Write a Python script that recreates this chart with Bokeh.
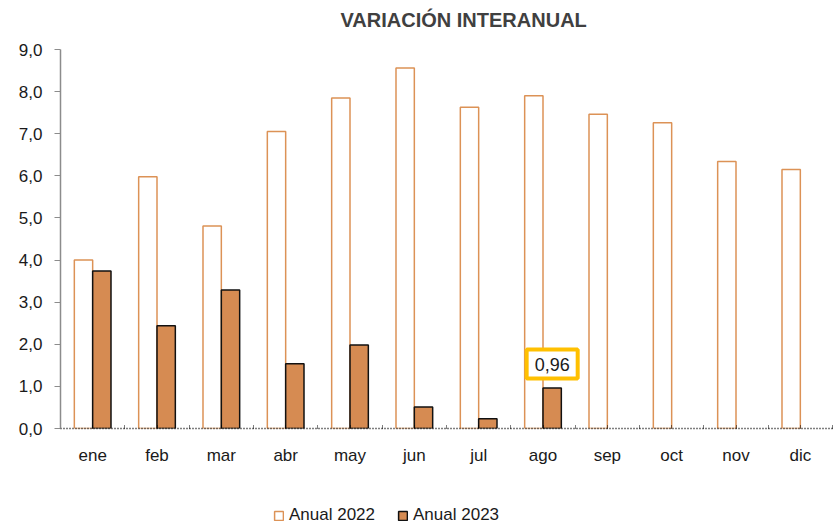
from bokeh.plotting import figure
from bokeh.layouts import column
from bokeh.models import ColumnDataSource, FixedTicker, Range1d, Legend, LegendItem, Label, Title
from bokeh.embed import file_html
from bokeh.resources import INLINE

months = ["ene", "feb", "mar", "abr", "may", "jun", "jul", "ago", "sep", "oct", "nov", "dic"]
anual_2022 = [4.00, 5.98, 4.81, 7.05, 7.85, 8.56, 7.63, 7.90, 7.46, 7.26, 6.34, 6.15]
months_2023 = ["ene", "feb", "mar", "abr", "may", "jun", "jul", "ago"]
anual_2023 = [3.74, 2.44, 3.29, 1.54, 1.98, 0.51, 0.23, 0.96]
y_ticks = [0, 1, 2, 3, 4, 5, 6, 7, 8, 9]
y_tick_labels = ["0,0", "1,0", "2,0", "3,0", "4,0", "5,0", "6,0", "7,0", "8,0", "9,0"]
series_labels = ["Anual 2022", "Anual 2023"]
highlight_month = "ago"
highlight_text = "0,96"

FONT = "Liberation Sans"
W = 0.285
OFF = 0.1425
C22_LINE = "#DC9256"
C23_FILL = "#D68B52"
C23_LINE = "#111111"

x22 = [months.index(m) + 0.5 - OFF for m in months]
x23 = [months.index(m) + 0.5 + OFF for m in months_2023]
src22 = ColumnDataSource(dict(x=x22, top=anual_2022))
src23 = ColumnDataSource(dict(x=x23, top=anual_2023))

p = figure(frame_width=772, frame_height=379, width=833, height=488,
           min_border_left=60, min_border_right=1, min_border_top=49, min_border_bottom=60,
           output_backend="svg", toolbar_location=None,
           x_range=Range1d(0, len(months)), y_range=Range1d(0, 9))
p.outline_line_color = None
p.xgrid.grid_line_color = None
p.ygrid.grid_line_color = None

def bars(fig, src22, src23):
    a = fig.vbar(x="x", top="top", width=W, bottom=0, source=src22,
                 fill_color="white", line_color=C22_LINE, line_width=1.5)
    b = fig.vbar(x="x", top="top", width=W, bottom=0, source=src23,
                 fill_color=C23_FILL, line_color=C23_LINE, line_width=1.5)
    return a, b

bars(p, src22, src23)

# x axis
xt = [i * 0.5 for i in range(2 * len(months) + 1)]
p.xaxis.ticker = FixedTicker(ticks=xt)
overrides = {}
for t in xt:
    overrides[t] = ""
for i, m in enumerate(months):
    overrides[i + 0.5] = m
p.xaxis.major_label_overrides = overrides
p.xaxis.axis_line_color = "black"
p.xaxis.axis_line_dash = "1 2"
p.xaxis.axis_line_width = 1.5
p.xaxis.major_tick_in = 3
p.xaxis.major_tick_out = 0
p.xaxis.major_tick_line_color = "black"
p.xaxis.major_tick_line_dash = "1 1"
p.xaxis.minor_tick_line_color = None
p.xaxis.major_label_standoff = 17
p.xaxis.major_label_text_font = FONT
p.xaxis.major_label_text_font_size = "17px"
p.xaxis.major_label_text_color = "#1a1a1a"

# y axis
p.yaxis.ticker = FixedTicker(ticks=y_ticks)
p.yaxis.major_label_overrides = {t: l for t, l in zip(y_ticks, y_tick_labels)}
p.yaxis.axis_line_color = "#8C8C8C"
p.yaxis.axis_line_width = 1.5
p.yaxis.major_tick_line_color = "#8C8C8C"
p.yaxis.major_tick_in = 0
p.yaxis.major_tick_out = 6
p.yaxis.minor_tick_line_color = None
p.yaxis.major_label_standoff = 12
p.yaxis.major_label_text_font = FONT
p.yaxis.major_label_text_font_size = "17px"
p.yaxis.major_label_text_color = "#1a1a1a"

# spacer (closer to frame) then title (outermost)
spacer = Title(text=" ", text_font_size="1px", standoff=14)
p.add_layout(spacer, "above")
title = Title(text="VARIACIÓN INTERANUAL", align="left", offset=280,
              text_font=FONT, text_font_size="20px", text_font_style="bold",
              text_color="#404040", standoff=0, vertical_align="top")
p.add_layout(title, "above")

# highlight label
hi = months_2023.index(highlight_month)
lab = Label(x=x23[hi], y=anual_2023[hi], text=highlight_text, y_offset=24,
            text_align="center", text_baseline="middle",
            text_font=FONT, text_font_size="18px", text_color="#1a1a1a",
            border_line_color="#FFC000", border_line_width=4,
            background_fill_color="white", padding=8)
p.add_layout(lab)

# legend in a strip below (same data, renderers hidden; only the legend shows)
lg = figure(width=833, height=35, min_border=0, output_backend="svg", toolbar_location=None,
            x_range=Range1d(0, len(months)), y_range=Range1d(0, 9))
lg.axis.visible = False
lg.grid.visible = False
lg.outline_line_color = None
d22, d23 = bars(lg, src22, src23)
d22.visible = False
d23.visible = False
legend = Legend(items=[LegendItem(label=series_labels[0], renderers=[d22], index=0),
                       LegendItem(label=series_labels[1], renderers=[d23], index=0)],
                location=(213, -2), orientation="horizontal",
                glyph_width=11, glyph_height=11, label_standoff=5, spacing=22,
                padding=0, margin=0, border_line_color=None, background_fill_alpha=0,
                inactive_fill_alpha=0,
                label_text_font=FONT, label_text_font_size="17px", label_text_color="#1a1a1a")
lg.add_layout(legend, "center")

layout = column(p, lg, spacing=0)
open("out.html", "w").write(file_html(layout, INLINE))
